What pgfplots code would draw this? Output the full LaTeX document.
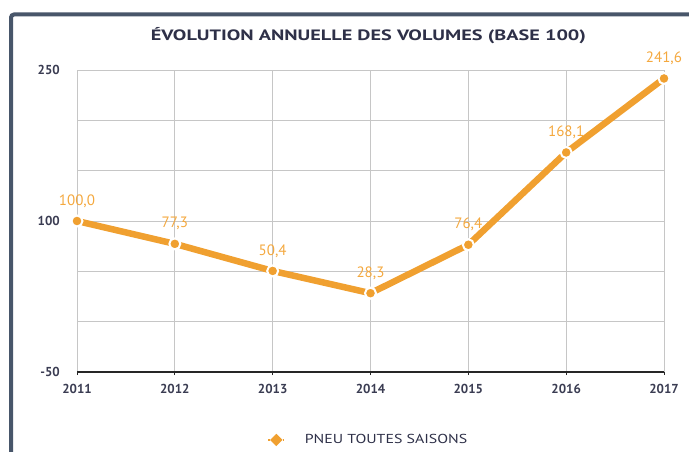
\documentclass[border=0pt]{standalone}
\usepackage{pgfplots}
\pgfplotsset{compat=1.18}
\usepackage{fontspec}
\setmainfont{PT Sans}
\definecolor{orangeL}{HTML}{F0A030}
\definecolor{labelC}{HTML}{F4A83E}
\definecolor{frameC}{HTML}{48566A}
\definecolor{txt}{HTML}{2E3048}
\definecolor{tickC}{HTML}{3A3C52}
\definecolor{gridC}{HTML}{C6C6C6}
\begin{document}
\begin{tikzpicture}
\useasboundingbox (0,0) rectangle (689pt,451pt);
\begin{scope}
\clip (0,0) rectangle (689pt,451pt);
\draw[frameC, line width=4pt, rounded corners=3pt] (11pt,-10pt) -- (11pt,436.5pt) -- (700pt,436.5pt);
\end{scope}
\node[font=\bfseries\fontsize{15}{18}\selectfont, text=txt] at (368.5pt,415.5pt) {\scalebox{1.35}[1]{ÉVOLUTION ANNUELLE DES VOLUMES (BASE 100)}};
\begin{axis}[
  at={(77pt,79pt)}, anchor=south west,
  scale only axis, width=587pt, height=302pt,
  xmin=2011, xmax=2017, ymin=-50, ymax=250,
  xtick={2011,2012,2013,2014,2015,2016,2017},
  ytick={-50,0,50,100,150,200,250},
  yticklabels={-50,,,100,,,250},
  /pgf/number format/assume math mode=true,
  xticklabel style={/pgf/number format/1000 sep={}, font=\bfseries\fontsize{13}{13}\selectfont, text=tickC, anchor=center, yshift=-14pt},
  yticklabel style={font=\bfseries\fontsize{13}{13}\selectfont, text=tickC, anchor=east, inner sep=0pt, xshift=-14pt},
  grid=major,
  grid style={gridC, line width=1pt},
  axis lines=left,
  axis line style={-},
  x axis line style={black!85, line width=1.5pt},
  y axis line style={draw=none},
  xtick style={black!85, line width=1pt},
  ytick style={draw=none},
  tick align=outside,
  major tick length=3pt,
  clip=false,
  legend style={at={(0.4966,-0.225)}, anchor=center, draw=none, fill=none, font=\fontsize{13}{13}\selectfont, text=txt},
  legend image code/.code={\draw[orangeL, line width=1.2pt, dash pattern=on 2pt off 3pt] (0pt,0pt) -- (16pt,0pt); \fill[orangeL] (8pt,0pt) circle (1.6pt);},
]
\addplot[orangeL, line width=6.5pt, mark=*, mark size=5.5pt,
  mark options={fill=orangeL, draw=white, line width=2pt},
  nodes near coords={\pgfmathprintnumber[fixed,fixed zerofill,precision=1,use comma]{\pgfplotspointmeta}},
  nodes near coords style={font=\fontsize{15}{15}\selectfont, text=labelC, anchor=center, inner sep=0pt, yshift=20pt},
] coordinates {
  (2011,100.0) (2012,77.3) (2013,50.4) (2014,28.3) (2015,76.4) (2016,168.1) (2017,241.6)
};
\addlegendentry{\hspace{18pt}\scalebox{1.22}[1]{PNEU TOUTES SAISONS}}
\end{axis}
\end{tikzpicture}
\end{document}
